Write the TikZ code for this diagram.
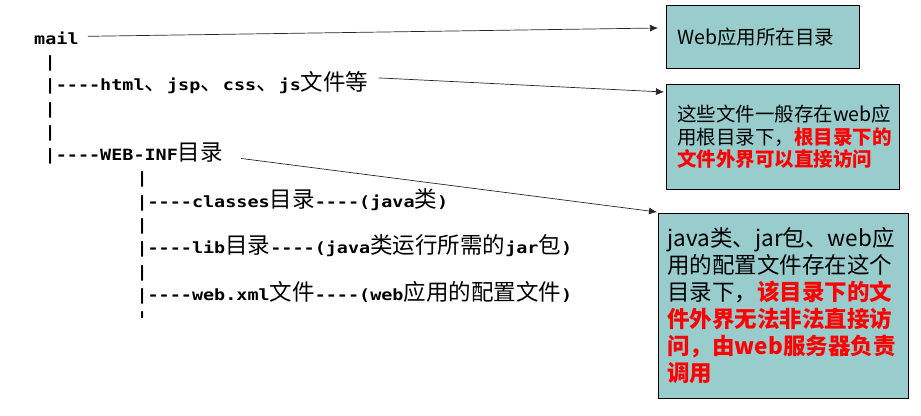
\documentclass[tikz,border=0pt]{standalone}
\usepackage{fontspec}
\usepackage{tikz}
\usepackage{xcolor}
\usetikzlibrary{arrows.meta}
\usetikzlibrary{calc}

\newfontfamily\treefont[FakeStretch=1.19,Ligatures=TeXOff]{DejaVu Sans Mono}
\newfontfamily\cjk{Noto Sans CJK SC}
\definecolor{notefill}{RGB}{153,204,204}
\newcommand{\zh}[1]{{\cjk\mdseries\fontsize{22.5}{22.5}\selectfont #1}}
\newcommand{\hot}[1]{{\color{red}\bfseries #1}}

\begin{document}
\begin{tikzpicture}[x=1pt,y=-1pt,>=Latex]
     \tikzstyle{entry}=[anchor=base west,inner sep=0pt,font=\treefont\bfseries\fontsize{15.5}{18}\selectfont]
     \tikzstyle{note}=[draw=black,fill=notefill,anchor=north west,align=left,inner ysep=2pt,line width=0.8pt]
     \tikzstyle{pointer}=[draw,black!85,line width=0.7pt,-{Latex[length=8pt,width=7pt]}]
     \useasboundingbox (0,0) rectangle (921,415);

     % directory tree
     \node[entry] (mail) at (34, 44) {mail};
     \node[entry] (bar1) at (44.5, 67.3) {|};
     \node[entry] (html) at (44.5, 90.6) {|----html\zh{、}jsp\zh{、}css\zh{、}js\zh{文件等}};
     \node[entry] (bar3) at (44.5, 114) {|};
     \node[entry] (bar4) at (44.5, 137.2) {|};
     \node[entry] (webinf) at (44.5, 160.5) {|----WEB-INF\zh{目录}};
     \node[entry] (bar6) at (136.3, 183.8) {|};
     \node[entry] (classes) at (136.3, 207.1) {|----classes\zh{目录}----(java\zh{类})};
     \node[entry] (bar8) at (136.3, 230.4) {|};
     \node[entry] (lib) at (136.3, 253.7) {|----lib\zh{目录}----(java\zh{类运行所需的}jar\zh{包})};
     \node[entry] (bar10) at (136.3, 277) {|};
     \node[entry] (webxml) at (136.3, 300.3) {|----web.xml\zh{文件}----(web\zh{应用的配置文件})};
     \begin{scope}
       \clip (120, 300) rectangle (170, 317);
       \node[entry] (bar12) at (136.3, 323.6) {|};
     \end{scope}

     % notes
     \node[note,inner xsep=11pt,text width=171pt,minimum height=63pt,
           font=\cjk\fontsize{19.5}{22.5}\selectfont] (rootnote) at (666, 5)
           {Web应用所在目录};
     \node[note,inner xsep=11pt,text width=211pt,minimum height=105pt,
           font=\cjk\fontsize{19.5}{22.5}\selectfont] (publicnote) at (666, 84)
           {这些文件一般存在web应\\用根目录下，\hot{根目录下的}\\\hot{文件外界可以直接访问}};
     \node[note,inner xsep=9pt,text width=232pt,minimum height=185pt,
           font=\cjk\fontsize{22.5}{27}\selectfont] (privatenote) at (658, 213)
           {java类、jar包、web应\\用的配置文件存在这个\\目录下，\hot{该目录下的文}\\\hot{件外界无法非法直接访}\\\hot{问，由web服务器负责}\\\hot{调用}};

     \draw[pointer] ($(mail.east)+(9,-1.5)$) -- ($(rootnote.north west)+(-8,23)$);
     \draw[pointer] ($(html.east)+(10,-5)$) -- ($(publicnote.north west)+(-2,8)$);
     \draw[pointer] ($(webinf.east)+(18,5)$) -- ($(privatenote.north west)+(-1,-1)$);
 \end{tikzpicture}
\end{document}
